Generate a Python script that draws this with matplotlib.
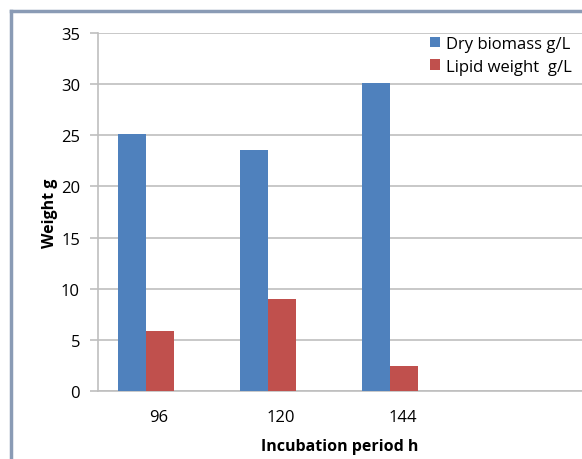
import numpy as np
import matplotlib.pyplot as plt
from matplotlib.lines import Line2D

# incubation periods (h) and measured weights (g/L)
periods = ["96", "120", "144"]
dry_biomass = [25.1, 23.6, 30.1]
lipid_weight = [5.85, 9.0, 2.4]

plt.rcParams['font.family'] = ['Open Sans', 'DejaVu Sans']

fig = plt.figure(figsize=(5.82, 4.6), dpi=100)
ax = fig.add_axes([98 / 582, 1 - 392 / 460, 1 - 98 / 582, (392 - 34) / 460])

x = np.arange(len(periods))
w = 0.23
ax.bar(x - w / 2, dry_biomass, w, color="#4F81BD", label="Dry biomass g/L", zorder=3)
ax.bar(x + w / 2, lipid_weight, w, color="#C0504D", label="Lipid weight  g/L", zorder=3)

ax.set_xlim(-0.393, 3.57)
ax.set_ylim(0, 35)
ax.set_yticks(range(0, 36, 5))
ax.yaxis.grid(True, color="#bfbfbf", linewidth=1.2, zorder=0)
ax.tick_params(axis="y", length=6, color="#bfbfbf", width=1.2, labelsize=12, pad=7)

# category labels sit a little right of the bar pairs
ax.set_xticks(x + 0.1)
ax.set_xticklabels(periods)
ax.tick_params(axis="x", length=0, labelsize=12, pad=13)

for s in ["top", "right"]:
    ax.spines[s].set_visible(False)
ax.spines["left"].set_color("#bfbfbf")
ax.spines["bottom"].set_color("#bfbfbf")
ax.spines["left"].set_linewidth(1.2)
ax.spines["bottom"].set_linewidth(1.2)

ax.set_ylabel("Weight g", fontsize=11.5, fontweight="bold", labelpad=2)
ax.set_xlabel("Incubation period h", fontsize=11.5, fontweight="bold", labelpad=9)

ax.legend(loc="upper right", bbox_to_anchor=(1.0, 1.02), frameon=False, fontsize=12,
          handlelength=0.6, handleheight=0.6, handletextpad=0.35, labelspacing=0.4,
          borderaxespad=0.2)

# outer frame of the chart box
fig.add_artist(Line2D([11 / 582, 11 / 582], [0, 1 - 12 / 460], color="#8a9bb5", linewidth=2.5,
                      transform=fig.transFigure))
fig.add_artist(Line2D([11 / 582, 1], [1 - 12 / 460, 1 - 12 / 460], color="#8a9bb5", linewidth=2.5,
                      transform=fig.transFigure))

fig.savefig("out.png", dpi=100)
